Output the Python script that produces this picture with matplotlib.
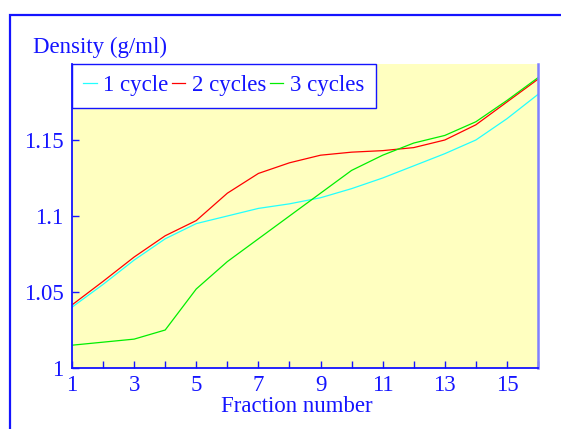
import matplotlib
matplotlib.use('Agg')
import matplotlib.pyplot as plt
from matplotlib.patches import Rectangle

fraction = [1, 2, 3, 4, 5, 6, 7, 8, 9, 10, 11, 12, 13, 14, 15, 16]
cycle_1 = [1.040, 1.055, 1.071, 1.085, 1.095, 1.100, 1.105, 1.108, 1.112, 1.118,
           1.125, 1.133, 1.141, 1.150, 1.164, 1.180]
cycle_2 = [1.0415, 1.057, 1.073, 1.087, 1.097, 1.115, 1.128, 1.135, 1.140, 1.142,
           1.143, 1.145, 1.150, 1.160, 1.175, 1.190]
cycle_3 = [1.015, 1.017, 1.019, 1.025, 1.052, 1.070, 1.085, 1.100, 1.115, 1.130,
           1.140, 1.148, 1.153, 1.162, 1.176, 1.191]
labels = ['1 cycle', '2 cycles', '3 cycles']

blue = '#1414ff'
fs = 16.5
plt.rcParams['font.family'] = ['Liberation Serif', 'DejaVu Serif']

fig = plt.figure(figsize=(5.61, 4.29), dpi=100)
fig.patch.set_facecolor('white')

# outer frame, cut off at right and bottom like the reference
fig.patches.append(Rectangle((10 / 561, -0.05), 1.0, 1 - 15 / 429 + 0.05,
                             transform=fig.transFigure, fill=False,
                             edgecolor=blue, linewidth=1.6, clip_on=False))

ax = fig.add_axes([72 / 561, 1 - 368 / 429, (538 - 72) / 561, (368 - 64) / 429])
ax.set_facecolor('#ffffc0')

ax.plot(fraction, cycle_1, color='#22ffff', lw=0.9, label=labels[0])
ax.plot(fraction, cycle_2, color='#ff0000', lw=0.9, label=labels[1])
ax.plot(fraction, cycle_3, color='#00ee00', lw=0.9, label=labels[2])

ax.set_xlim(1, 16)
ax.set_ylim(1, 1.2)
ax.set_xticks(range(1, 17))
ax.set_xticklabels([str(i) if i % 2 == 1 else '' for i in range(1, 17)])
ax.set_yticks([1, 1.05, 1.1, 1.15])
ax.set_yticklabels(['1', '1.05', '1.1', '1.15'])
ax.tick_params(direction='in', length=5, width=1, colors=blue, labelsize=fs,
               labelcolor=blue)
ax.tick_params(axis='x', pad=5)
ax.tick_params(axis='y', pad=6)

for s in ax.spines.values():
    s.set_color(blue)
    s.set_linewidth(1.3)
ax.spines['top'].set_visible(False)
ax.spines['right'].set_linewidth(1.8)
ax.spines['right'].set_color('#8080ff')

fig.text(297 / 561, 1 - 407 / 429, 'Fraction number', color=blue, fontsize=fs,
         va='center', ha='center')
fig.text(33 / 561, 1 - 47 / 429, 'Density (g/ml)', color=blue, fontsize=fs,
         va='center', ha='left')

leg = ax.legend(loc='upper left', ncol=3, fontsize=fs, frameon=True,
                fancybox=False, borderaxespad=0, handlelength=0.57,
                handletextpad=0.3, columnspacing=0.15, borderpad=0.5,
                labelcolor=blue)
leg.get_frame().set_edgecolor(blue)
leg.get_frame().set_facecolor('white')
leg.get_frame().set_alpha(1)
leg.get_frame().set_linewidth(1.0)

fig.savefig('out.png', dpi=100)
